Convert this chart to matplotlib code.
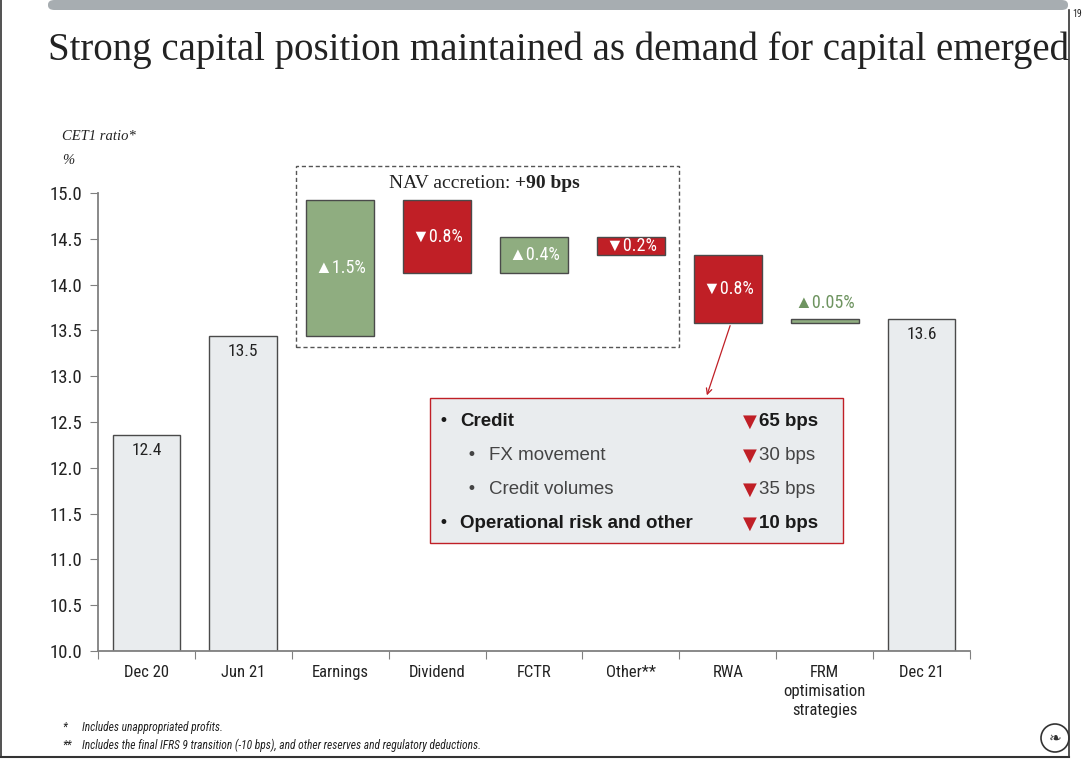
import matplotlib.pyplot as plt
from matplotlib.patches import Rectangle, FancyBboxPatch, Ellipse
from matplotlib.lines import Line2D

# chart data
categories = ["Dec 20", "Jun 21", "Earnings", "Dividend", "FCTR", "Other**",
              "RWA", "FRM\noptimisation\nstrategies", "Dec 21"]
bar_bottom = [10.0, 10.0, 13.44, 14.13, 14.13, 14.32, 13.58, 13.58, 10.0]
bar_top = [12.36, 13.44, 14.92, 14.92, 14.52, 14.52, 14.32, 13.62, 13.62]
bar_kind = ["total", "total", "up", "down", "up", "down", "down", "up", "total"]
bar_labels = ["12.4", "13.5", "\u25B21.5%", "\u25BC0.8%", "\u25B20.4%",
              "\u25BC0.2%", "\u25BC0.8%", "\u25B20.05%", "13.6"]
y_ticks = [10.0, 10.5, 11.0, 11.5, 12.0, 12.5, 13.0, 13.5, 14.0, 14.5, 15.0]

rwa_items = ["Credit", "FX movement", "Credit volumes", "Operational risk and other"]
rwa_bps = ["65 bps", "30 bps", "35 bps", "10 bps"]
rwa_level = [0, 1, 1, 0]

GREEN = "#8FAD80"
RED = "#C01F26"
GREY_BAR = "#E9ECEE"
TXT = "#222222"
SANS = ["Roboto Condensed", "Liberation Sans", "DejaVu Sans"]
SERIF = ["Liberation Serif", "DejaVu Serif"]

W, H = 1088, 759
fig = plt.figure(figsize=(W / 100, H / 100), dpi=100)


def P(x, y):
    # pixel position -> figure fraction
    return x / W, 1 - y / H


ax = fig.add_axes([98 / W, 1 - 651 / H, (970 - 98) / W, (651 - 193) / H])

colors = {"total": GREY_BAR, "up": GREEN, "down": RED}
x = list(range(len(categories)))
heights = [t - b for t, b in zip(bar_top, bar_bottom)]
ax.bar(x, heights, bottom=bar_bottom, width=0.70,
       color=[colors[k] for k in bar_kind], edgecolor="#4a4a4a", linewidth=1)

for i, (lab, kind) in enumerate(zip(bar_labels, bar_kind)):
    if kind == "total":
        ax.text(i, bar_top[i] - 0.17, lab, ha="center", va="center",
                fontsize=12.5, color=TXT, family=SANS)
    elif heights[i] < 0.1:
        ax.text(i, bar_top[i] + 0.18, lab, ha="center", va="center",
                fontsize=13, color="#6E9460", family=SANS)
    else:
        ymid = (bar_top[i] + bar_bottom[i]) / 2
        if i == 3:
            ymid = bar_top[i] - 0.4
        ax.text(i, ymid, lab, ha="center", va="center",
                fontsize=13, color="white", family=SANS)

ax.set_xlim(-0.5, len(categories) - 0.5)
ax.set_ylim(10, 15)
ax.set_yticks(y_ticks)
ax.set_yticklabels([f"{v:.1f}" for v in y_ticks], family=SANS, fontsize=13.5, color=TXT)
ax.set_xticks([i + 0.5 for i in range(-1, len(categories))])
ax.set_xticklabels([])
ax.set_xticks(x, minor=True)
ax.set_xticklabels(categories, minor=True, family=SANS, fontsize=12, color=TXT,
                   linespacing=1.32, va="top")
ax.tick_params(axis="x", which="minor", length=0, pad=10)
ax.tick_params(axis="x", which="major", length=6, color="#808080", direction="out")
ax.tick_params(axis="y", length=6, color="#808080", pad=5)
for s in ["top", "right"]:
    ax.spines[s].set_visible(False)
for s in ["left", "bottom"]:
    ax.spines[s].set_color("#808080")
    ax.spines[s].set_linewidth(1.3)

# dashed NAV accretion box
x0, y0 = P(296, 347)
x1, y1 = P(679, 166)
fig.patches.append(Rectangle((x0, y0), x1 - x0, y1 - y0, transform=fig.transFigure,
                             fill=False, edgecolor="#555555", linestyle=(0, (3, 2)),
                             linewidth=1, zorder=0))
t1 = fig.text(*P(389, 183), "NAV accretion: ", ha="left", va="center",
              fontsize=14, family=SERIF, color=TXT)
ax.annotate("+90 bps", xy=(1, 0), xycoords=t1, ha="left", va="bottom",
            fontsize=14, family=SERIF, fontweight="bold", color=TXT)

# RWA breakdown box
bx0, by0 = P(430, 543)
bx1, by1 = P(843, 398)
fig.patches.append(Rectangle((bx0, by0), bx1 - bx0, by1 - by0, transform=fig.transFigure,
                             facecolor=GREY_BAR, edgecolor=RED, linewidth=1, zorder=3))
row_y = [421, 455, 489, 523]
for item, bps, lvl, ry in zip(rwa_items, rwa_bps, rwa_level, row_y):
    bold = "bold" if lvl == 0 else "normal"
    col = "#1a1a1a" if lvl == 0 else "#444444"
    bxp = 443 if lvl == 0 else 471
    txp = 460 if lvl == 0 else 489
    fig.text(*P(bxp, ry), "\u2022", ha="center", va="center", fontsize=12,
             family=["DejaVu Sans"], color=col, zorder=4)
    fig.text(*P(txp, ry), item, ha="left", va="center", fontsize=13.5,
             family=["Liberation Sans", "DejaVu Sans"], fontweight=bold, color=col, zorder=4)
    fig.text(*P(750, ry + 1), "\u25BC", ha="center", va="center", fontsize=13,
             family=["DejaVu Sans"], color=RED, zorder=4)
    fig.text(*P(759, ry), bps, ha="left", va="center", fontsize=13.5,
             family=["Liberation Sans", "DejaVu Sans"], fontweight=bold, color=col, zorder=4)

# arrow from RWA bar into the box
ax.annotate("", xy=P(706, 398), xycoords="figure fraction",
            xytext=P(731, 323), textcoords="figure fraction",
            arrowprops=dict(arrowstyle="->", color=RED, lw=0.9))

# title and axis caption
fig.text(*P(48, 50), "Strong capital position maintained as demand for capital emerged",
         ha="left", va="center", fontsize=28, family=SERIF, color=TXT)
fig.text(*P(62, 137), "CET1 ratio*", ha="left", va="center", fontsize=10.5,
         family=SERIF, style="italic", color=TXT)
fig.text(*P(62, 160), "%", ha="left", va="center", fontsize=10.5,
         family=SERIF, style="italic", color=TXT)

# footnotes
fig.text(*P(62, 727), "*", ha="left", va="center", fontsize=8.3, family=SANS,
         style="italic", color=TXT)
fig.text(*P(82, 727), "Includes unappropriated profits.", ha="left", va="center",
         fontsize=8.3, family=SANS, style="italic", color=TXT)
fig.text(*P(62, 745), "**", ha="left", va="center", fontsize=8.3, family=SANS,
         style="italic", color=TXT)
fig.text(*P(82, 745), "Includes the final IFRS 9 transition (-10 bps), and other reserves and regulatory deductions.",
         ha="left", va="center", fontsize=8.3, family=SANS, style="italic", color=TXT)

# slide frame
gx0, gy0 = P(48, 10)
gx1, gy1 = P(1068, 0)
fig.patches.append(FancyBboxPatch((gx0, gy0), gx1 - gx0, gy1 - gy0, transform=fig.transFigure,
                                  boxstyle="round,pad=0,rounding_size=0.006",
                                  facecolor="#A7ADB1", edgecolor="none"))
fig.lines.append(Line2D([P(1069, 0)[0], P(1069, 0)[0]], [P(0, 10)[1], P(0, 757)[1]],
                        transform=fig.transFigure, color="#333333", lw=1.2))
fig.lines.append(Line2D([P(1, 0)[0], P(1, 0)[0]], [P(0, 0)[1], P(0, 757)[1]],
                        transform=fig.transFigure, color="#333333", lw=1.2))
fig.lines.append(Line2D([0, P(1069, 0)[0]], [P(0, 757)[1], P(0, 757)[1]],
                        transform=fig.transFigure, color="#333333", lw=1.5))
fig.text(*P(1077, 14), "19", ha="center", va="center", fontsize=7, family=SANS, color=TXT)

# logo placeholder
fig.patches.append(Ellipse(P(1055, 738), 28 / W, 28 / H, transform=fig.transFigure,
                           fill=False, edgecolor="#333333", lw=1.2))
fig.text(*P(1055, 738), "\u2767", ha="center", va="center", fontsize=11,
         family=["DejaVu Sans"], color="#333333")

fig.savefig("out.png", dpi=100)
